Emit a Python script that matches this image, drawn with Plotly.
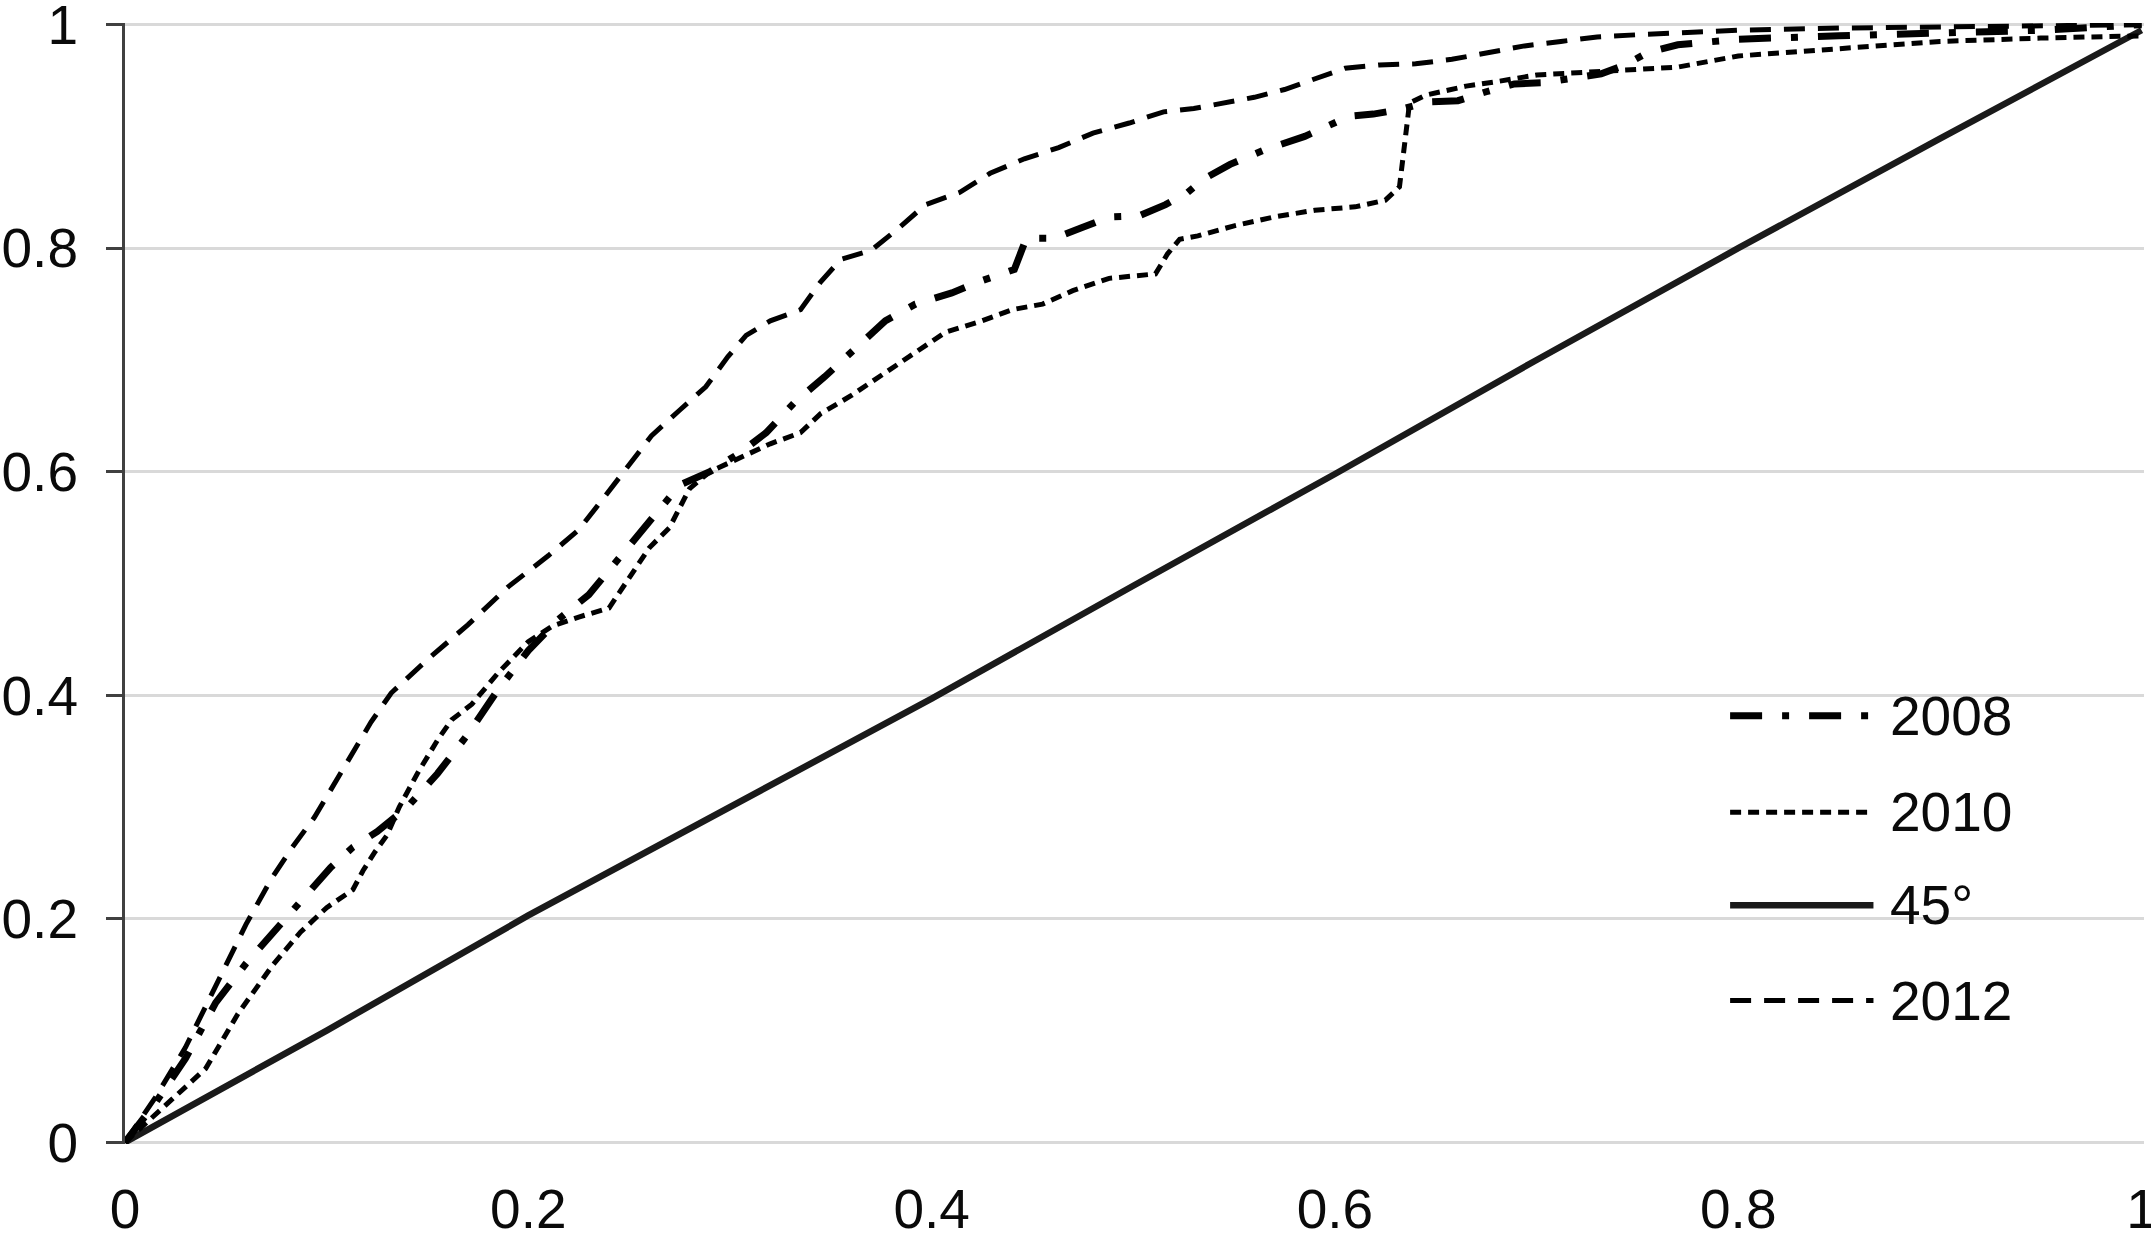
import plotly.graph_objects as go

# ---- data ----
x_2008 = [0, 0.015, 0.03, 0.045, 0.06, 0.077, 0.093, 0.102, 0.113, 0.125, 0.14, 0.155, 0.17, 0.185, 0.2,
          0.215, 0.23, 0.245, 0.26, 0.275, 0.29, 0.305, 0.318, 0.332, 0.347, 0.362, 0.377, 0.392, 0.41, 0.425,
          0.441, 0.447, 0.461, 0.474, 0.488, 0.503, 0.516, 0.527, 0.535, 0.548, 0.565, 0.585, 0.607, 0.619, 0.632,
          0.647, 0.661, 0.675, 0.689, 0.703, 0.717, 0.732, 0.744, 0.755, 0.77, 0.8, 0.85, 0.9, 0.95, 1.0]
y_2008 = [0, 0.035, 0.075, 0.125, 0.16, 0.195, 0.227, 0.246, 0.264, 0.278, 0.3, 0.33, 0.365, 0.405, 0.44,
          0.468, 0.49, 0.523, 0.555, 0.588, 0.6, 0.617, 0.635, 0.662, 0.685, 0.71, 0.735, 0.75, 0.76, 0.771,
          0.781, 0.809, 0.809, 0.818, 0.828, 0.829, 0.839, 0.85, 0.862, 0.875, 0.888, 0.9, 0.918, 0.92, 0.924,
          0.931, 0.932, 0.94, 0.947, 0.948, 0.952, 0.956, 0.964, 0.975, 0.982, 0.987, 0.99, 0.992, 0.995, 1.0]

x_2010 = [0, 0.015, 0.03, 0.04, 0.056, 0.073, 0.087, 0.1, 0.113, 0.118, 0.124, 0.13, 0.136, 0.145, 0.155,
          0.162, 0.172, 0.185, 0.2, 0.212, 0.225, 0.24, 0.25, 0.26, 0.27, 0.28, 0.29, 0.305, 0.32, 0.335,
          0.345, 0.36, 0.378, 0.392, 0.407, 0.425, 0.44, 0.455, 0.47, 0.488, 0.511, 0.517, 0.523, 0.532, 0.55,
          0.57, 0.59, 0.61, 0.625, 0.632, 0.637, 0.645, 0.665, 0.68, 0.7, 0.72, 0.745, 0.77, 0.8, 0.85,
          0.9, 0.95, 1.0]
y_2010 = [0, 0.025, 0.05, 0.066, 0.115, 0.158, 0.188, 0.21, 0.226, 0.243, 0.26, 0.275, 0.3, 0.33, 0.36,
          0.378, 0.392, 0.42, 0.448, 0.462, 0.47, 0.478, 0.505, 0.532, 0.55, 0.585, 0.6, 0.612, 0.625, 0.635,
          0.652, 0.668, 0.69, 0.708, 0.725, 0.735, 0.745, 0.75, 0.762, 0.773, 0.777, 0.795, 0.808, 0.811, 0.82,
          0.828, 0.834, 0.837, 0.843, 0.855, 0.93, 0.937, 0.945, 0.949, 0.955, 0.957, 0.96, 0.962, 0.972, 0.979,
          0.985, 0.988, 0.99]

x_2012 = [0, 0.015, 0.03, 0.045, 0.06, 0.073, 0.083, 0.094, 0.103, 0.112, 0.122, 0.132, 0.15, 0.17, 0.19,
          0.21, 0.225, 0.238, 0.25, 0.261, 0.275, 0.288, 0.299, 0.308, 0.32, 0.335, 0.345, 0.355, 0.37, 0.383,
          0.397, 0.414, 0.429, 0.446, 0.463, 0.48, 0.498, 0.515, 0.53, 0.545, 0.56, 0.575, 0.59, 0.605, 0.622,
          0.64, 0.658, 0.676, 0.694, 0.712, 0.73, 0.75, 0.8, 0.85, 0.9, 0.95, 1.0]
y_2012 = [0, 0.04, 0.085, 0.14, 0.195, 0.237, 0.264, 0.291, 0.318, 0.347, 0.376, 0.402, 0.432, 0.463, 0.497,
          0.525, 0.548, 0.578, 0.607, 0.632, 0.655, 0.676, 0.703, 0.722, 0.735, 0.745, 0.77, 0.79, 0.798, 0.817,
          0.839, 0.85, 0.867, 0.88, 0.89, 0.903, 0.912, 0.922, 0.925, 0.93, 0.935, 0.942, 0.952, 0.961, 0.964,
          0.965, 0.969, 0.975, 0.981, 0.985, 0.989, 0.991, 0.995, 0.997, 0.998, 0.999, 1.0]

x_45 = [0, 0.1, 0.2, 0.3, 0.4, 0.5, 0.6, 0.7, 0.8, 0.9, 1.0]
y_45 = [0, 0.1, 0.203, 0.3, 0.397, 0.498, 0.598, 0.7, 0.8, 0.898, 0.995]

tick_vals = [0, 0.2, 0.4, 0.6, 0.8, 1.0]
tick_text = ["0", "0.2", "0.4", "0.6", "0.8", "1"]

legend_names = ["2008", "2010", "45°", "2012"]

# ---- styles ----
FONT = "Liberation Sans, Arial, sans-serif"
TXT = "#0a0a0a"
styles = {
    "2008": dict(color="#000000", width=7, dash="32px,20px,7px,20px"),
    "2010": dict(color="#000000", width=5, dash="11px,7px"),
    "45°": dict(color="#1a1a1a", width=6.5, dash="solid"),
    "2012": dict(color="#000000", width=5, dash="21px,13px"),
}

fig = go.Figure()
series = {
    "45°": (x_45, y_45),
    "2010": (x_2010, y_2010),
    "2012": (x_2012, y_2012),
    "2008": (x_2008, y_2008),
}
for name, (xs, ys) in series.items():
    fig.add_trace(go.Scatter(x=xs, y=ys, mode="lines", name=name,
                             line=styles[name], showlegend=False, cliponaxis=False))

# manual legend (long line samples)
leg_y = [0.382, 0.296, 0.213, 0.128]
for name, yy in zip(legend_names, leg_y):
    fig.add_shape(type="line", xref="paper", yref="paper", x0=0.795, x1=0.866, y0=yy, y1=yy,
                  line=styles[name])
    fig.add_annotation(xref="paper", yref="paper", x=0.873, y=yy, xanchor="left", yanchor="middle",
                       text=name, showarrow=False, font=dict(family=FONT, size=55, color=TXT))

fig.update_layout(
    width=2151, height=1239,
    margin=dict(l=125, r=7, t=23, b=95, autoexpand=False),
    paper_bgcolor="white", plot_bgcolor="white",
    showlegend=False,
    font=dict(family=FONT, size=55, color=TXT),
)
fig.update_xaxes(range=[0, 1.0012], tickvals=tick_vals, ticktext=tick_text, showgrid=False,
                 zeroline=False, showline=False, ticks="", ticklabelstandoff=28, automargin=False,
                 ticklabeloverflow="allow",
                 tickfont=dict(family=FONT, size=55, color=TXT))
fig.update_yaxes(range=[-0.0015, 1.0015], tickvals=tick_vals, ticktext=tick_text, showgrid=True,
                 gridcolor="#d9d9d9", gridwidth=3, zeroline=False, showline=True,
                 linecolor="#404040", linewidth=3, ticks="outside", ticklen=16, tickwidth=3,
                 tickcolor="#404040", ticklabelstandoff=17, automargin=False,
                 ticklabeloverflow="allow",
                 tickfont=dict(family=FONT, size=55, color=TXT))

fig.write_html(
    "out.html",
    config={"displayModeBar": False},
    post_script="document.body.style.margin='0';document.body.style.overflow='hidden';",
)
